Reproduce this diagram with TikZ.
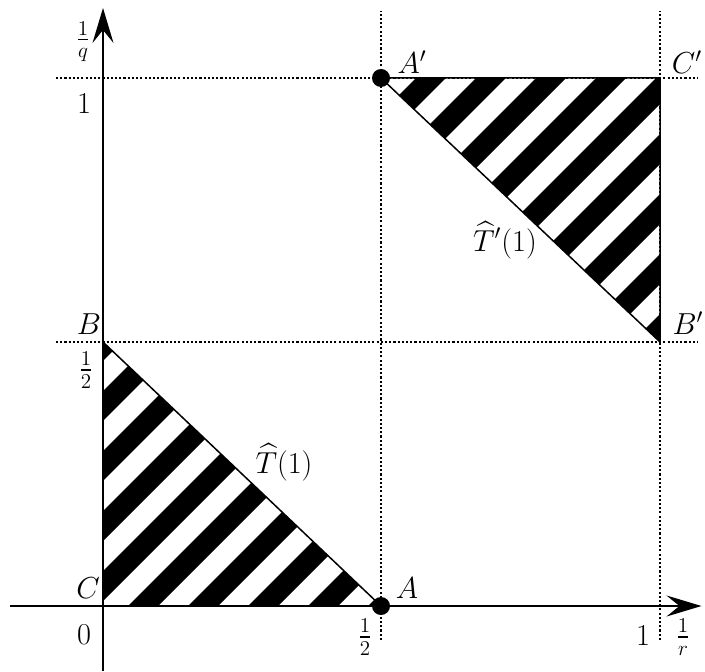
\documentclass[tikz,border=0pt]{standalone}
\usepackage{amsmath,amssymb}
\usetikzlibrary{positioning,calc,arrows.meta}

\begin{document}
\begin{tikzpicture}[>={Stealth[length=0.7cm,width=0.42cm,inset=0.26cm]}, axis/.style={->, line width=1.1pt}, guide/.style={line width=1.3pt, dash pattern=on 1.2pt off 1.2pt}, rim/.style={line width=0.85pt}, stripe/.style={line width=0.424cm}, dot/.style={circle, fill, inner sep=0pt, minimum size=0.36cm}, lbl/.style={font=\LARGE, inner sep=0pt}]

\useasboundingbox (-2.06,-1.30) rectangle (12.04,12.12);

\coordinate (C) at (0,0);
\coordinate (A) at (5.56,0);
\coordinate (B) at (0,5.28);
\coordinate (Ap) at (5.56,10.56);
\coordinate (Cp) at (11.14,10.56);
\coordinate (Bp) at (11.14,5.28);

% hatched triangles
\begin{scope}
\clip (C) -- (A) -- (B) -- cycle (Ap) -- (Cp) -- (Bp) -- cycle;
\foreach \k in {-10,...,10}
  \draw[stripe] ({1.2*\k-0.2},-1) -- ++(14,14);
\end{scope}
\draw[rim] (C) -- (A) -- (B) -- cycle;
\draw[rim] (Ap) -- (Cp) -- (Bp) -- cycle;

% axes
\coordinate (xs) at (-1.86,0);
\coordinate (xe) at (11.97,0);
\coordinate (ys) at (0,-1.30);
\coordinate (ye) at (0,11.96);
\draw[axis] (xs) -- (xe);
\draw[axis] (ys) -- (ye);

% dotted guides
\coordinate (gb) at (0,-0.68);
\coordinate (gt) at (0,11.9);
\coordinate (gl) at (-0.94,0);
\coordinate (gr) at (11.9,0);
\draw[guide] (A |- gb) -- (A |- gt);
\draw[guide] (Cp |- gb) -- (Cp |- gt);
\draw[guide] (B -| gl) -- (B -| gr);
\draw[guide] (Ap -| gl) -- (Ap -| gr);

\node[dot] (dA) at (A) {};
\node[dot] (dAp) at (Ap) {};

% labels
\node[lbl] (lC) at (-0.30,0.36) {$C$};
\node[lbl] (lA) at (6.08,0.36) {$A$};
\node[lbl] (lB) at (-0.28,5.64) {$B$};
\node[lbl] (lAp) at (6.18,10.88) {$A'$};
\node[lbl] (lCp) at (11.68,10.88) {$C'$};
\node[lbl] (lBp) at (11.70,5.66) {$B'$};
\node[lbl] (l0) at (-0.38,-0.58) {$0$};
\node[lbl] (lxh) at (5.24,-0.62) {$\frac{1}{2}$};
\node[lbl] (lx1) at (10.80,-0.60) {$1$};
\node[lbl] (lr) at (11.60,-0.62) {$\frac{1}{r}$};
\node[lbl] (lyh) at (-0.34,4.72) {$\frac{1}{2}$};
\node[lbl] (ly1) at (-0.38,10.04) {$1$};
\node[lbl] (lq) at (-0.40,11.28) {$\frac{1}{q}$};
\node[lbl] (lT) at (3.62,2.88) {$\widehat{T}(1)$};
\node[lbl] (lTp) at (8.04,7.32) {$\widehat{T}'(1)$};
\end{tikzpicture}
\end{document}
